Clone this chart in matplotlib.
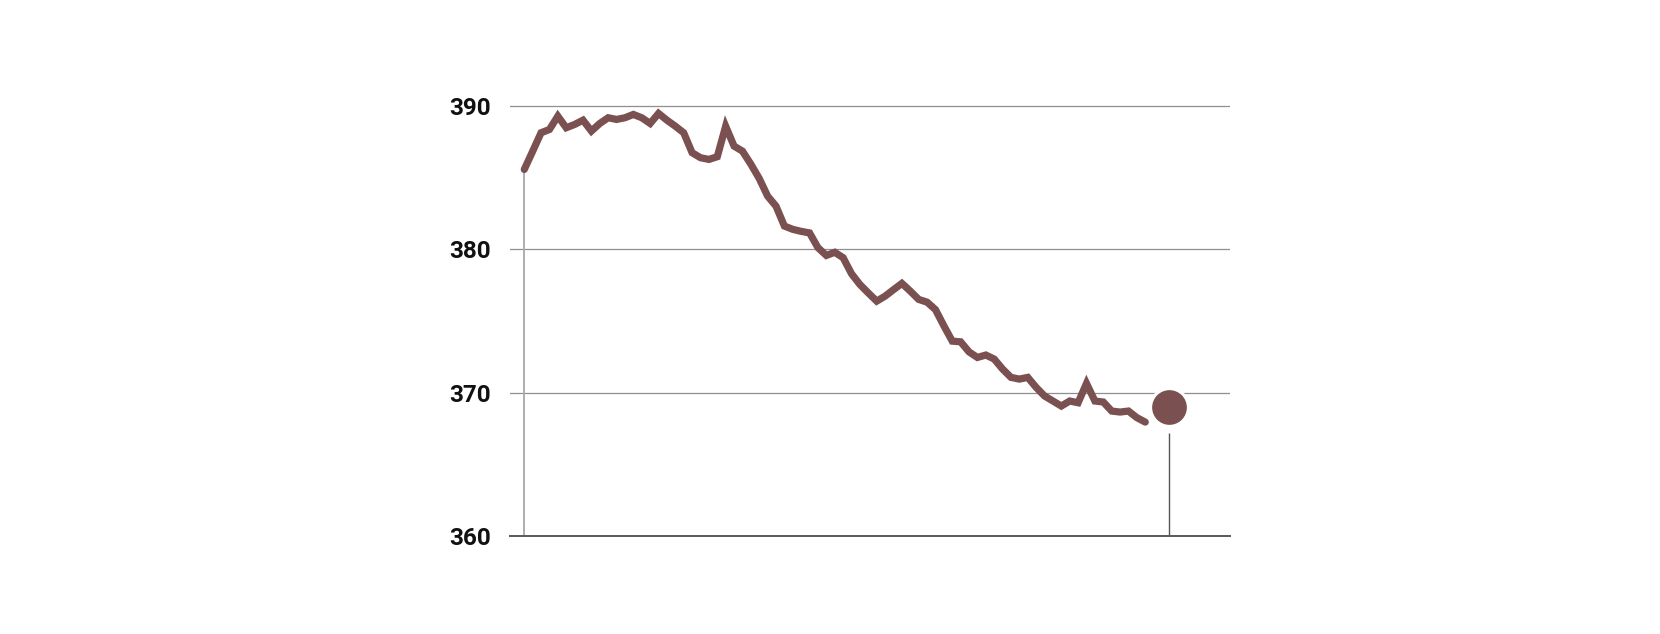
import matplotlib
matplotlib.use("Agg")
import matplotlib.pyplot as plt
import numpy as np

# Data (index = period)
values = [
    385.58, 386.85, 388.14, 388.37, 389.30, 388.49, 388.72, 389.02, 388.26, 388.79,
    389.19, 389.07, 389.19, 389.42, 389.19, 388.79, 389.49, 389.02, 388.60, 388.14,
    386.75, 386.40, 386.28, 386.47, 388.60, 387.21, 386.86, 385.95, 384.95, 383.72,
    383.02, 381.63, 381.40, 381.26, 381.15, 380.12, 379.58, 379.80, 379.42, 378.30,
    377.55, 376.96, 376.39, 376.74, 377.19, 377.63, 377.09, 376.51, 376.32, 375.80,
    374.67, 373.60, 373.55, 372.85, 372.46, 372.63, 372.35, 371.65, 371.07, 370.95,
    371.07, 370.37, 369.77, 369.42, 369.07, 369.42, 369.30, 370.65, 369.42, 369.35,
    368.72, 368.65, 368.72, 368.26, 367.95,
]
periods = list(range(len(values)))
dot_period = 76.8
dot_value = 368.97
yticks = [360, 370, 380, 390]
ytick_labels = ["360", "370", "380", "390"]

line_color = "#7a5150"

fig = plt.figure(figsize=(16.6, 6.34), dpi=100)
ax = fig.add_axes([510 / 1660, (634 - 536) / 634, 720 / 1660, (536 - 91.8) / 634])

ax.set_xlim(-1.70, 84.1)
ax.set_ylim(360, 391)

for s in ["left", "right", "top"]:
    ax.spines[s].set_visible(False)
ax.spines["bottom"].set_color("#5a5a5a")
ax.spines["bottom"].set_linewidth(1.4)

ax.set_yticks(yticks)
ax.set_yticklabels(ytick_labels)
ax.set_xticks([])
ax.tick_params(axis="y", length=0, pad=14)
for lbl in ax.get_yticklabels():
    lbl.set_fontfamily("Roboto")
    lbl.set_fontweight("bold")
    lbl.set_fontsize(17.5)
    lbl.set_color("#111111")

for t in yticks[1:]:
    ax.axhline(t, color="#8f8f8f", lw=0.9, zorder=1)

# vertical reference line at the start
ax.vlines(periods[0], 360, values[0], color="#a8a8a8", lw=1.3, zorder=1)

# main line
ax.plot(periods, values, color=line_color, lw=5.2, solid_joinstyle="miter",
        solid_capstyle="round", zorder=3)

# projected point with white halo
ax.vlines(dot_period, 360, dot_value - 1.8, color="#555555", lw=1.0, zorder=1)
ax.plot([dot_period], [dot_value], marker="o", markersize=29.5, color="white",
        markeredgewidth=0, zorder=4)
ax.plot([dot_period], [dot_value], marker="o", markersize=25, color=line_color,
        markeredgewidth=0, zorder=5)

fig.savefig("out.png", dpi=100)
